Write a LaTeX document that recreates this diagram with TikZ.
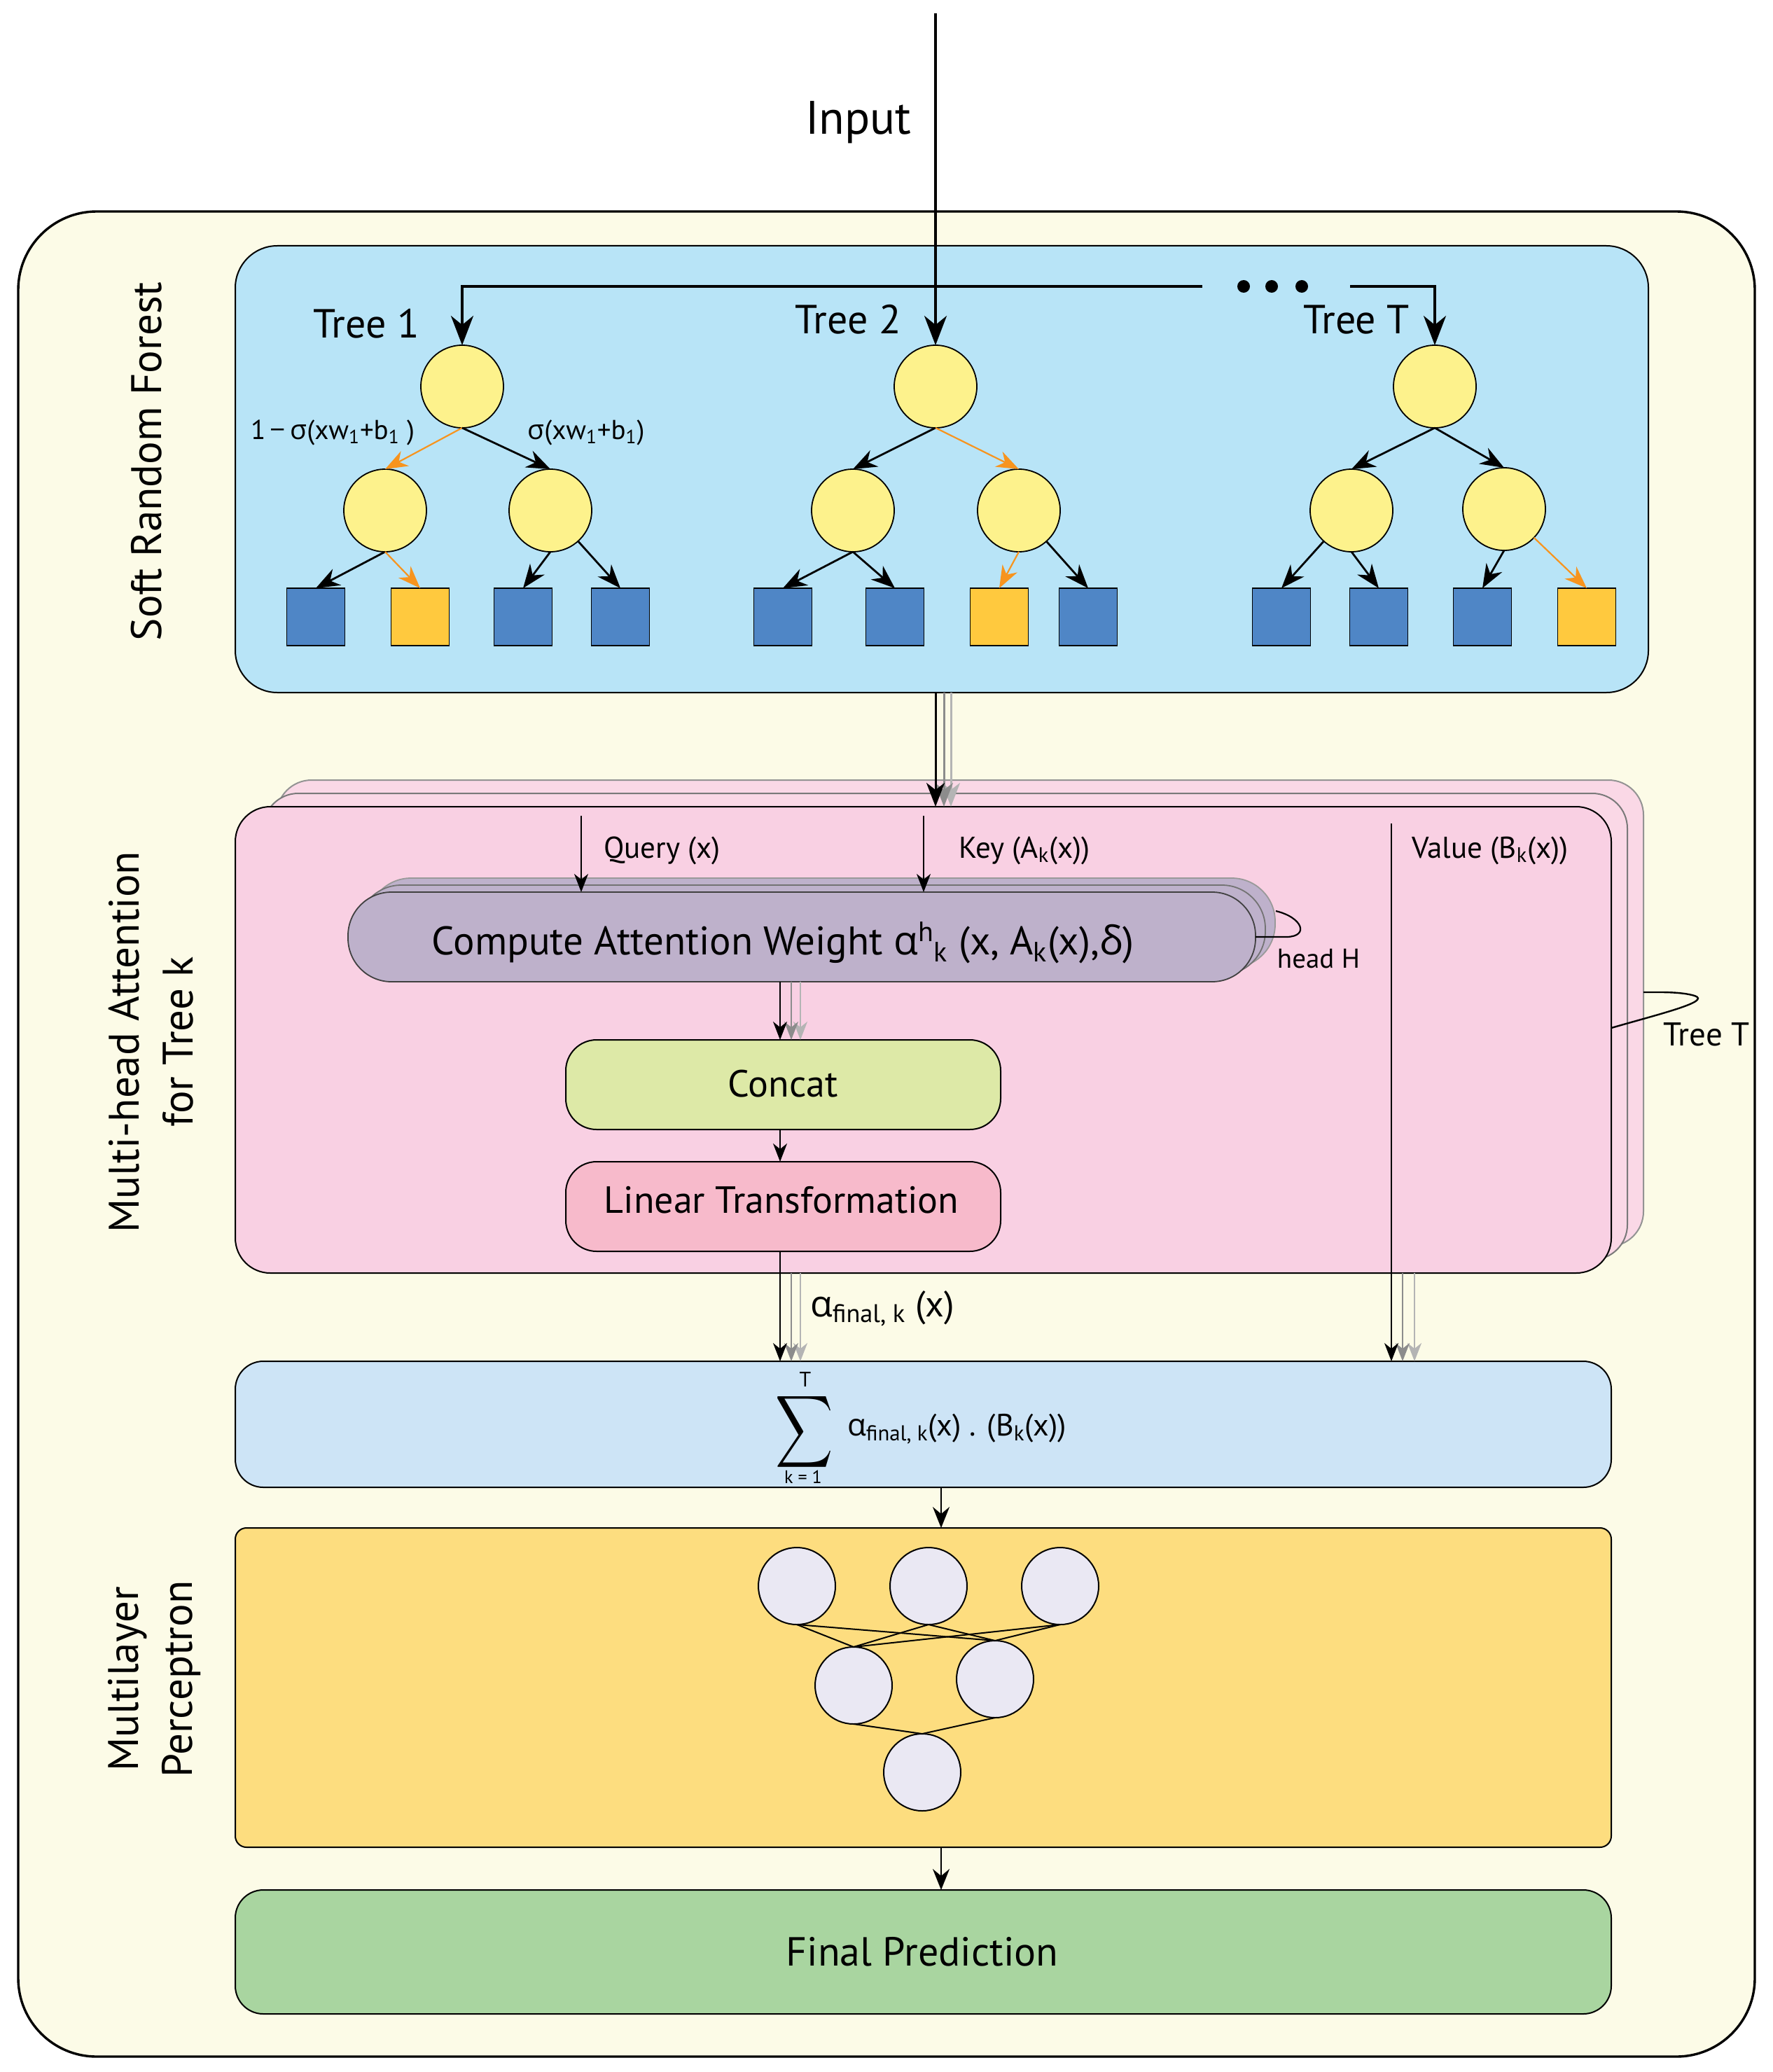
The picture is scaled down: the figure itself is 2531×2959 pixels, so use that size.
\documentclass[tikz,border=0pt]{standalone}
\usepackage{fontspec}
\usepackage{graphicx}
\setmainfont{PT Sans}
\newfontfamily\grk{Open Sans}
\usetikzlibrary{arrows.meta}
\newcommand\fsz[2]{\fontsize{#1}{#2}\selectfont}
\definecolor{outerc}{RGB}{252,251,231}
\definecolor{forestc}{RGB}{184,228,247}
\definecolor{ylw}{RGB}{253,242,140}
\definecolor{leafblue}{RGB}{79,134,198}
\definecolor{leafyel}{RGB}{255,201,62}
\definecolor{orng}{RGB}{247,148,30}
\definecolor{attback}{RGB}{250,216,230}
\definecolor{attfront}{RGB}{249,208,227}
\definecolor{cmpc}{RGB}{190,177,203}
\definecolor{concatc}{RGB}{221,233,167}
\definecolor{linc}{RGB}{247,186,203}
\definecolor{sumc}{RGB}{205,228,246}
\definecolor{mlpc}{RGB}{253,221,127}
\definecolor{neuc}{RGB}{234,232,243}
\definecolor{finalc}{RGB}{169,213,160}
\definecolor{gA}{RGB}{140,140,140}
\definecolor{gB}{RGB}{180,180,180}
\begin{document}
\begin{tikzpicture}[x=0.5pt,y=-0.5pt,
  box/.style={draw, inner sep=0pt, outer sep=0pt, line width=1pt},
  tnode/.style={circle, draw, fill=ylw, minimum size=59pt, inner sep=0pt, outer sep=0pt, line width=0.9pt},
  leafB/.style={draw, fill=leafblue, minimum width=41.5pt, minimum height=41pt, inner sep=0pt, outer sep=0pt, line width=0.9pt},
  leafY/.style={leafB, fill=leafyel},
  tarrow/.style={line width=1.4pt, -{Stealth[length=17pt,width=13pt,inset=5.5pt]}},
  oarrow/.style={line width=1.1pt, draw=orng, -{Stealth[length=16pt,width=12pt,inset=5pt]}},
  bigarrow/.style={line width=2pt, -{Stealth[length=21pt,width=16pt,inset=6.5pt]}},
  thinarrow/.style={line width=1.2pt, -{Stealth[length=13pt,width=10pt,inset=4pt]}},
  neuron/.style={circle, draw, fill=neuc, minimum size=55pt, inner sep=0pt, outer sep=0pt, line width=1pt},
  dotn/.style={circle, fill, minimum size=9pt, inner sep=0pt}
]
\path[use as bounding box, fill=white] (0,0) rectangle (2531,2959);

% outer frame
\node[box, line width=1.7pt, fill=outerc, minimum width=1240pt, minimum height=1317.5pt, rounded corners=56pt] (outer) at (1266,1619.5) {};

% left labels
\node[rotate=90, font=\fsz{30.5}{36}] (lab1) at (209,659) {Soft Random Forest};
\node[rotate=90, align=center, font=\fsz{30.5}{38.5}] (lab2) at (216,1488) {Multi-head Attention\\for Tree k};
\node[rotate=90, align=center, font=\fsz{30.5}{38.5}] (lab3) at (221,2398) {Multilayer\\Perceptron};

% forest
\node[box, fill=forestc, minimum width=1009pt, minimum height=319pt, rounded corners=30pt] (forest) at (1345,670) {};

\node[anchor=base, font=\fsz{33.5}{40}] (inputlbl) at (1226,192) {Input};

% trees
\node[tnode] (r1) at (660,552) {};
\node[tnode] (a1) at (550,729) {};
\node[tnode] (b1) at (786,729) {};
\node[leafB] (l11) at (451,881) {};
\node[leafY] (l12) at (600,881) {};
\node[leafB] (l13) at (747,881) {};
\node[leafB] (l14) at (886,881) {};

\node[tnode] (r2) at (1336,552) {};
\node[tnode] (a2) at (1218,729) {};
\node[tnode] (b2) at (1455,729) {};
\node[leafB] (l21) at (1118,881) {};
\node[leafB] (l22) at (1278,881) {};
\node[leafY] (l23) at (1427,881) {};
\node[leafB] (l24) at (1554,881) {};

\node[tnode] (rT) at (2049,552) {};
\node[tnode] (aT) at (1930,729) {};
\node[tnode] (bT) at (2148,727) {};
\node[leafB] (lT1) at (1830,881) {};
\node[leafB] (lT2) at (1969,881) {};
\node[leafB] (lT3) at (2117,881) {};
\node[leafY] (lT4) at (2266,881) {};

% tree edges
\draw[oarrow] (r1.south) -- (a1.north);
\draw[tarrow] (r1.south) -- (b1.north);
\draw[tarrow] (a1.south) -- (l11.north);
\draw[oarrow] (a1.south) -- (l12.north);
\draw[tarrow] (b1.south) -- (l13.north);
\draw[tarrow] (b1) -- (l14.north);

\draw[tarrow] (r2.south) -- (a2.north);
\draw[oarrow] (r2.south) -- (b2.north);
\draw[tarrow] (a2.south) -- (l21.north);
\draw[tarrow] (a2.south) -- (l22.north);
\draw[oarrow] (b2.south) -- (l23.north);
\draw[tarrow] (b2) -- (l24.north);

\draw[tarrow] (rT.south) -- (aT.north);
\draw[tarrow] (rT.south) -- (bT.north);
\draw[tarrow] (aT) -- (lT1.north);
\draw[tarrow] (aT.south) -- (lT2.north);
\draw[tarrow] (bT.south) -- (lT3.north);
\draw[oarrow] (bT) -- (lT4.north);

% tree labels
\node[anchor=base, font=\fsz{29}{35}] (t1lbl) at (523,482) {Tree 1};
\node[anchor=base, font=\fsz{29}{35}] (t2lbl) at (1211,476) {Tree 2};
\node[anchor=base, font=\fsz{29}{35}] (tTlbl) at (1937,476) {Tree T};
\node[anchor=base, font=\fsz{19.5}{24}] (fm1) at (475,627) {1\,{\grk −}\,{\grk σ}(xw\textsubscript{1}+b\textsubscript{1} )};
\node[anchor=base, font=\fsz{19.5}{24}] (fm2) at (837,627) {{\grk σ}(xw\textsubscript{1}+b\textsubscript{1})};

% distribution lines
\coordinate (hL) at (1717,409);
\coordinate (hR) at (1928,409);
\coordinate (intop) at (1336,19);
\draw[bigarrow] (hL) -- (r1.north |- hL) -- (r1.north);
\draw[bigarrow] (hR) -- (rT.north |- hR) -- (rT.north);
\draw[bigarrow] (intop) -- (r2.north);
\node[dotn] (d1) at (1776,409) {};
\node[dotn] (d2) at (1816,409) {};
\node[dotn] (d3) at (1859,409) {};

% attention stack
\node[box, draw=gray!85, fill=attback, minimum width=976pt, minimum height=333pt, rounded corners=25pt] (attB) at (1371,1447) {};
\node[box, draw=gray!95!black, fill=attback, minimum width=974pt, minimum height=333pt, rounded corners=25pt] (attM) at (1350,1466) {};
\node[box, fill=attfront, minimum width=982.5pt, minimum height=333pt, rounded corners=25pt] (attF) at (1318.5,1485) {};

% forest -> attention
\coordinate (fa1) at (1336,989);
\coordinate (fa2) at (1348,989);
\coordinate (fa3) at (1358,989);
\draw[thinarrow, line width=1.5pt, gB, -{Stealth[length=17pt,width=13pt,inset=5pt]}] (fa3) -- (fa3 |- attF.north);
\draw[thinarrow, line width=1.5pt, gA, -{Stealth[length=17pt,width=13pt,inset=5pt]}] (fa2) -- (fa2 |- attF.north);
\draw[thinarrow, line width=1.5pt, -{Stealth[length=17pt,width=13pt,inset=5pt]}] (fa1) -- (fa1 |- attF.north);

% compute attention stack
\node[box, draw=gray!80, fill=cmpc, line width=0.9pt, minimum width=648pt, minimum height=64pt, rounded corners=31pt] (cB) at (1173,1318) {};
\node[box, draw=gray!90!black, fill=cmpc, line width=0.9pt, minimum width=648pt, minimum height=64pt, rounded corners=31pt] (cM) at (1159,1328) {};
\node[box, draw=black!75, fill=cmpc, line width=0.9pt, minimum width=648pt, minimum height=64pt, rounded corners=31pt] (cF) at (1145,1338) {};
\node[anchor=base, font=\fsz{28.5}{34}] (ctxt) at (1118,1363) {Compute Attention Weight {\grk α}\textsuperscript{h}\textsubscript{k} (x, A\textsubscript{k}(x),{\grk δ})};

% query key value
\coordinate (qtop) at (830,1165);
\coordinate (ktop) at (1319,1165);
\coordinate (vtop) at (1987,1176);
\draw[thinarrow] (qtop) -- (qtop |- cF.north);
\draw[thinarrow] (ktop) -- (ktop |- cF.north);
\node[anchor=base west, font=\fsz{21.5}{26}] (qlbl) at (855,1225) {Query (x)};
\node[anchor=base west, font=\fsz{21.5}{26}] (klbl) at (1362,1225) {Key (A\textsubscript{k}(x))};
\node[anchor=base west, font=\fsz{21.5}{26}] (vlbl) at (2009,1225) {Value (B\textsubscript{k}(x))};

% head H loop
\coordinate (hh) at (1822,1301);
\draw[line width=1.1pt] (cF.east) -- (1838,1338) .. controls (1870,1337) and (1860,1310) .. (hh);
\node[anchor=base, font=\fsz{19.5}{24}] (hlbl) at (1883,1382) {head H};

% concat and linear
\node[box, fill=concatc, minimum width=310.5pt, minimum height=64pt, rounded corners=22pt] (concat) at (1118.5,1549) {};
\node[anchor=base, font=\fsz{27}{32}] (cctxt) at (1118,1566) {Concat};
\node[box, fill=linc, minimum width=310.5pt, minimum height=64pt, rounded corners=22pt] (linear) at (1118.5,1723) {};
\node[anchor=base, font=\fsz{27}{32}] (lntxt) at (1116,1732) {Linear Transformation};

\coordinate (k1) at (1114,1402);
\coordinate (k2) at (1130,1402);
\coordinate (k3) at (1143,1402);
\draw[thinarrow, gB] (k3) -- (k3 |- concat.north);
\draw[thinarrow, gA] (k2) -- (k2 |- concat.north);
\draw[thinarrow] (k1) -- (k1 |- concat.north);
\draw[thinarrow] (k1 |- concat.south) -- (k1 |- linear.north);

% Tree T loop
\coordinate (tt1) at (2301,1468);
\coordinate (tt2) at (2347,1417);
\draw[line width=1.2pt] (tt1) .. controls (2370,1448) and (2445,1430) .. (2420,1422) .. controls (2400,1416) and (2370,1417) .. (tt2);
\node[anchor=base, font=\fsz{23.5}{28}] (ttlbl) at (2437,1493) {Tree T};

% sum box
\node[box, fill=sumc, minimum width=982.5pt, minimum height=90pt, rounded corners=20pt] (sum) at (1318.5,2034) {};

\draw[thinarrow, gB] (k3 |- attF.south) -- (k3 |- sum.north);
\draw[thinarrow, gA] (k2 |- attF.south) -- (k2 |- sum.north);
\draw[thinarrow] (k1 |- linear.south) -- (k1 |- sum.north);
\node[anchor=base west, font=\fsz{26}{30}] (aflbl) at (1150,1880) {{\grk α}\textsubscript{final, k} (x)};

\coordinate (v2) at (2003,1176);
\coordinate (v3) at (2020,1176);
\draw[thinarrow, gB] (v3 |- attF.south) -- (v3 |- sum.north);
\draw[thinarrow, gA] (v2 |- attF.south) -- (v2 |- sum.north);
\draw[thinarrow] (vtop) -- (vtop |- sum.north);

\node[inner sep=0pt] (sig) at (1149,2063) {\raisebox{0pt}[0pt][0pt]{\scalebox{2.85}[3.6]{$\displaystyle\sum$}}};
\node[anchor=base, inner sep=0pt, font=\fsz{15}{18}] (sT) at (1150,1980) {T};
\node[anchor=base, inner sep=0pt, font=\fsz{13}{16}] (sk) at (1147,2118) {k = 1};
\node[anchor=base west, font=\fsz{22}{26}] (sexp) at (1203,2050) {{\grk α}\textsubscript{final, k}(x) . (B\textsubscript{k}(x))};

% MLP
\coordinate (mx) at (1344,2124);
\node[box, fill=mlpc, minimum width=982.5pt, minimum height=228pt, rounded corners=8pt] (mlp) at (1318.5,2410) {};
\draw[thinarrow, -{Stealth[length=15pt,width=12pt,inset=5pt]}] (mx) -- (mx |- mlp.north);
\node[neuron] (n1) at (1138,2265) {};
\node[neuron] (n2) at (1326,2265) {};
\node[neuron] (n3) at (1514,2265) {};
\node[neuron] (h1) at (1219,2407) {};
\node[neuron] (h2) at (1421,2398) {};
\node[neuron] (o1) at (1317,2531) {};
\foreach \a in {n1,n2,n3}{
  \foreach \b in {h1,h2}{
    \draw[line width=1pt] (\a.south) -- (\b.north);
  }
}
\draw[line width=1pt] (h1.south) -- (o1.north);
\draw[line width=1pt] (h2.south) -- (o1.north);

% final
\node[box, fill=finalc, minimum width=982.5pt, minimum height=88.5pt, rounded corners=20pt] (final) at (1318.5,2787.5) {};
\draw[thinarrow, -{Stealth[length=15pt,width=12pt,inset=5pt]}] (mlp.south -| mx) -- (final.north -| mx);
\node[anchor=base, font=\fsz{29}{34}] (ftxt) at (1317,2807) {Final Prediction};
\end{tikzpicture}
\end{document}
